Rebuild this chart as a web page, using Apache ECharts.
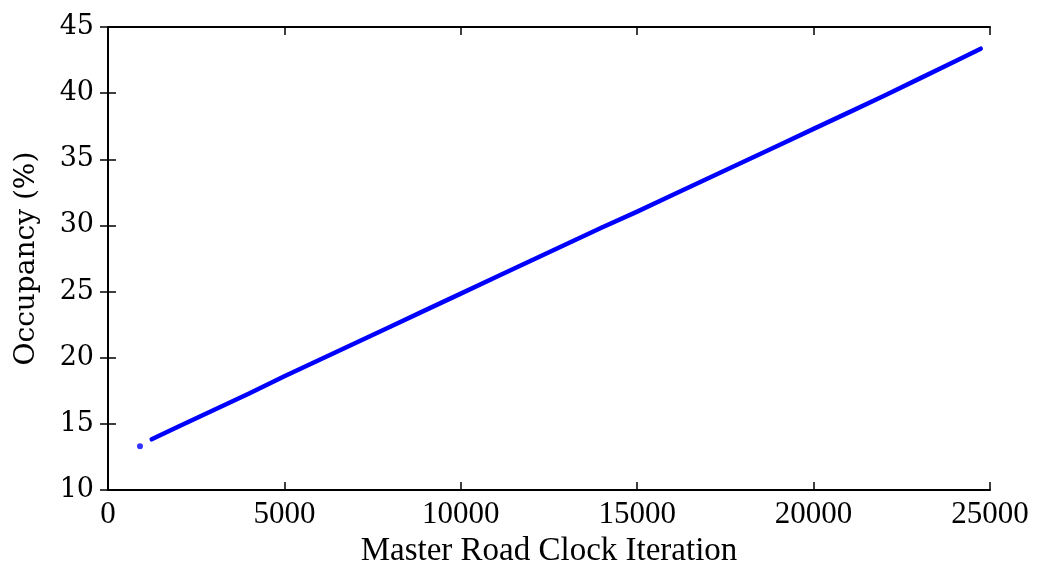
<!DOCTYPE html>
<html>
<head>
<meta charset="utf-8">
<script src="https://cdn.jsdelivr.net/npm/echarts@6/dist/echarts.min.js"></script>
<style>
  html, body { margin: 0; padding: 0; background: #fff; }
  #chart { width: 1039px; height: 573px; }
</style>
</head>
<body>
<div id="chart"></div>
<script>
// Master road clock iteration vs. occupancy (%)
const iterations = [1239, 2000, 3000, 4000, 5000, 6000, 7000, 8000, 9000, 10000, 11000, 12000,
  13000, 14000, 15000, 16000, 17000, 18000, 19000, 20000, 21000, 22000, 23000, 24000, 24737];
const occupancy = [13.84, 14.8, 16.05, 17.3, 18.6, 19.85, 21.1, 22.35, 23.6, 24.85, 26.1, 27.35,
  28.6, 29.85, 31.05, 32.3, 33.55, 34.8, 36.05, 37.3, 38.55, 39.8, 41.1, 42.4, 43.36];
// single early sample, separated from the main run
const earlyIteration = [907];
const earlyOccupancy = [13.31];

const xTicks = [0, 5000, 10000, 15000, 20000, 25000];
const yTicks = [10, 15, 20, 25, 30, 35, 40, 45];

const mainData = iterations.map((x, i) => [x, occupancy[i]]);
const earlyData = earlyIteration.map((x, i) => [x, earlyOccupancy[i]]);

const serif = 'DejaVu Serif';
const frame = { show: true, lineStyle: { color: '#000', width: 2 } };
const inTicks = { show: true, inside: true, length: 8, lineStyle: { color: '#000', width: 1.5 } };

const chart = echarts.init(document.getElementById('chart'), null, { renderer: 'canvas' });
chart.setOption({
  animation: false,
  backgroundColor: '#fff',
  grid: { left: 108, right: 49, top: 27, bottom: 78, containLabel: false },
  xAxis: [
    {
      type: 'value', position: 'bottom', min: xTicks[0], max: xTicks[xTicks.length - 1], interval: 5000,
      axisLine: frame, axisTick: inTicks, splitLine: { show: false },
      axisLabel: { color: '#000', fontFamily: 'Liberation Serif', fontSize: 31, margin: 9,
        formatter: v => String(v) },
      name: 'Master Road Clock Iteration', nameLocation: 'middle', nameGap: 42,
      nameTextStyle: { color: '#000', fontFamily: 'Liberation Serif', fontSize: 33 }
    },
    {
      type: 'value', position: 'top', min: xTicks[0], max: xTicks[xTicks.length - 1], interval: 5000,
      axisLine: frame, axisTick: inTicks, splitLine: { show: false }, axisLabel: { show: false }
    }
  ],
  yAxis: [
    {
      type: 'value', position: 'left', min: yTicks[0], max: yTicks[yTicks.length - 1], interval: 5,
      axisLine: frame, axisTick: inTicks, splitLine: { show: false },
      axisLabel: { color: '#000', fontFamily: serif, fontSize: 27, margin: 14 },
      name: 'Occupancy (%)', nameLocation: 'middle', nameGap: 67,
      nameTextStyle: { color: '#000', fontFamily: serif, fontSize: 28 }
    },
    {
      type: 'value', position: 'right', min: yTicks[0], max: yTicks[yTicks.length - 1], interval: 5,
      axisLine: frame, axisTick: inTicks, splitLine: { show: false }, axisLabel: { show: false }
    }
  ],
  series: [
    {
      type: 'line', data: mainData, xAxisIndex: 0, yAxisIndex: 0,
      showSymbol: false, smooth: false,
      lineStyle: { color: '#0000ff', width: 4.5, cap: 'round', join: 'round' }
    },
    {
      type: 'scatter', data: earlyData, xAxisIndex: 0, yAxisIndex: 0,
      symbol: 'circle', symbolSize: 6, itemStyle: { color: '#0000ff' }
    }
  ]
});
</script>
</body>
</html>
